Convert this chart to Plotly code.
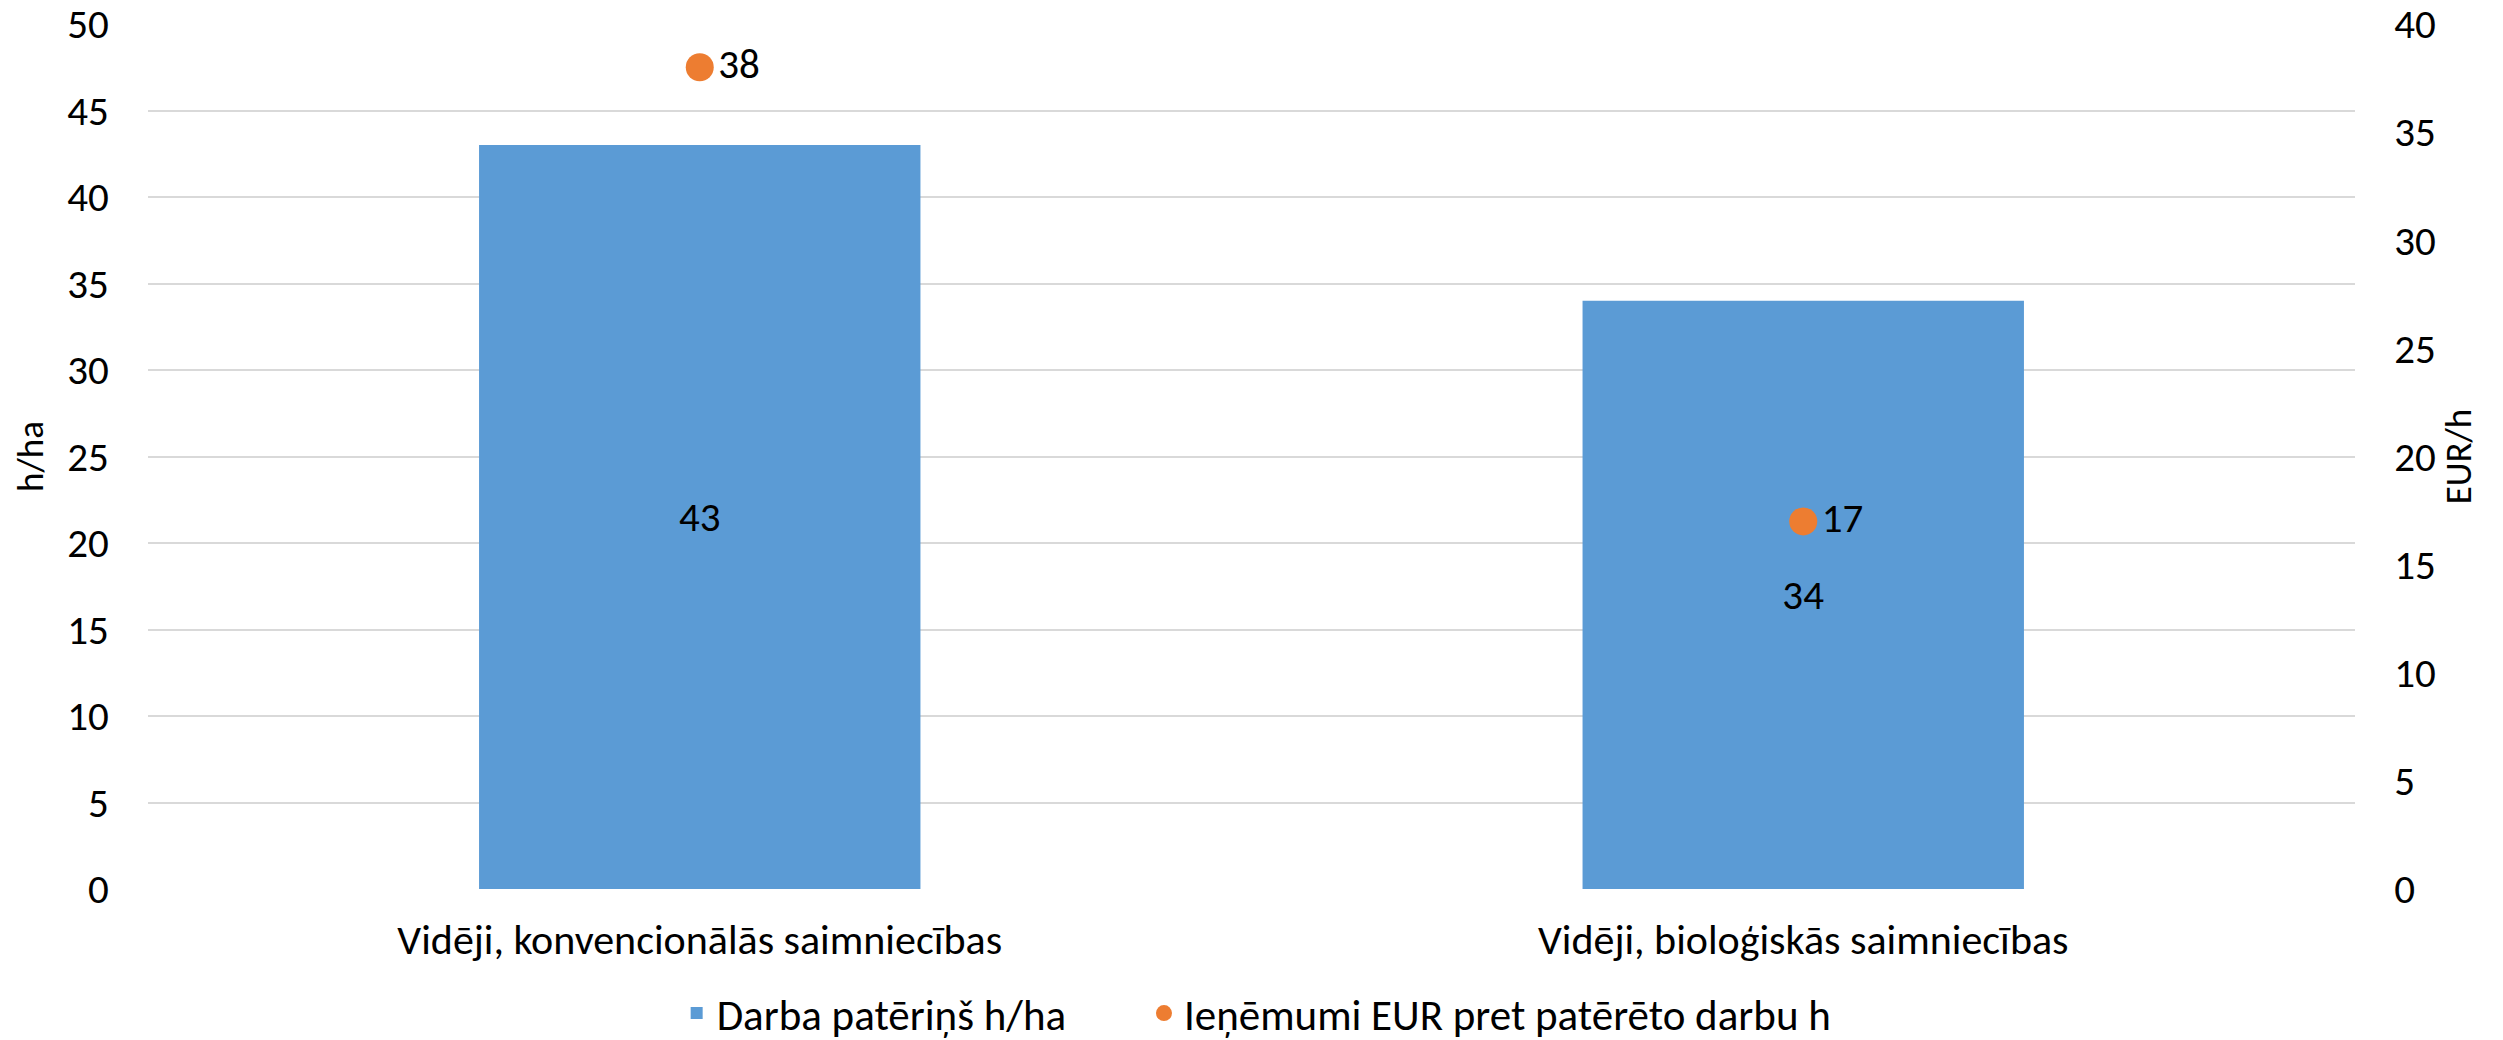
import plotly.graph_objects as go

categories = ["Vidēji, konvencionālās saimniecības", "Vidēji, bioloģiskās saimniecības"]
labour_h_per_ha = [43, 34]
revenue_eur_per_h = [38, 17]
bar_name = "Darba patēriņš h/ha"
dot_name = "Ieņēmumi EUR pret patērēto darbu h"
left_ticks = [0, 5, 10, 15, 20, 25, 30, 35, 40, 45, 50]
right_ticks = [0, 5, 10, 15, 20, 25, 30, 35, 40]

FONT = "Carlito, Calibri, Lato, sans-serif"
FS = 41

fig = go.Figure()
fig.add_trace(go.Bar(
    x=categories, y=labour_h_per_ha, name=bar_name,
    marker=dict(color="#5B9BD5", line=dict(width=0)),
    text=[str(v) for v in labour_h_per_ha], textposition="inside",
    insidetextanchor="middle", textangle=0,
    textfont=dict(family=FONT, size=FS, color="#000000"),
    yaxis="y", legend="legend",
))
fig.add_trace(go.Scatter(
    x=categories, y=revenue_eur_per_h, name=dot_name,
    mode="markers+text",
    marker=dict(color="#ED7D31", size=28),
    text=[str(v) for v in revenue_eur_per_h], textposition="middle right",
    textfont=dict(family=FONT, size=FS, color="#000000"),
    yaxis="y2", legend="legend2",
))

legend_common = dict(orientation="h", xanchor="left", xref="container",
                     y=0.026, yanchor="middle", yref="container",
                     font=dict(family=FONT, size=43), itemwidth=30)

# page body adds an 8px margin, so the figure is 8px smaller than the window
fig.update_layout(
    width=2495, height=1032,
    margin=dict(l=140, r=148, t=16, b=151),
    paper_bgcolor="white", plot_bgcolor="white",
    font=dict(family=FONT, size=FS, color="#000000"),
    bargap=0.6,
    showlegend=True,
    legend=dict(x=0.268, itemsizing="constant", **legend_common),
    legend2=dict(x=0.4553, itemsizing="trace", **legend_common),
    xaxis=dict(showgrid=False, showline=False, ticks="outside", ticklen=14, tickcolor="rgba(0,0,0,0)",
               tickfont=dict(size=42), automargin=False),
    yaxis=dict(range=[0, 50], tickvals=left_ticks, showgrid=True, gridcolor="#D9D9D9", gridwidth=2,
               zeroline=False, showline=False, ticks="outside", ticklen=30, tickcolor="rgba(0,0,0,0)",
               title=dict(text="h/ha", standoff=14, font=dict(size=37)), tickfont=dict(size=FS),
               automargin=False, ticklabeloverflow="allow"),
    yaxis2=dict(range=[0, 40], tickvals=right_ticks, overlaying="y", side="right", showgrid=False,
                zeroline=False, showline=False, ticks="outside", ticklen=30, tickcolor="rgba(0,0,0,0)",
                title=dict(text="EUR/h", standoff=6, font=dict(size=37)), tickfont=dict(size=FS),
                automargin=False, ticklabeloverflow="allow"),
)
fig.write_html("out.html")
